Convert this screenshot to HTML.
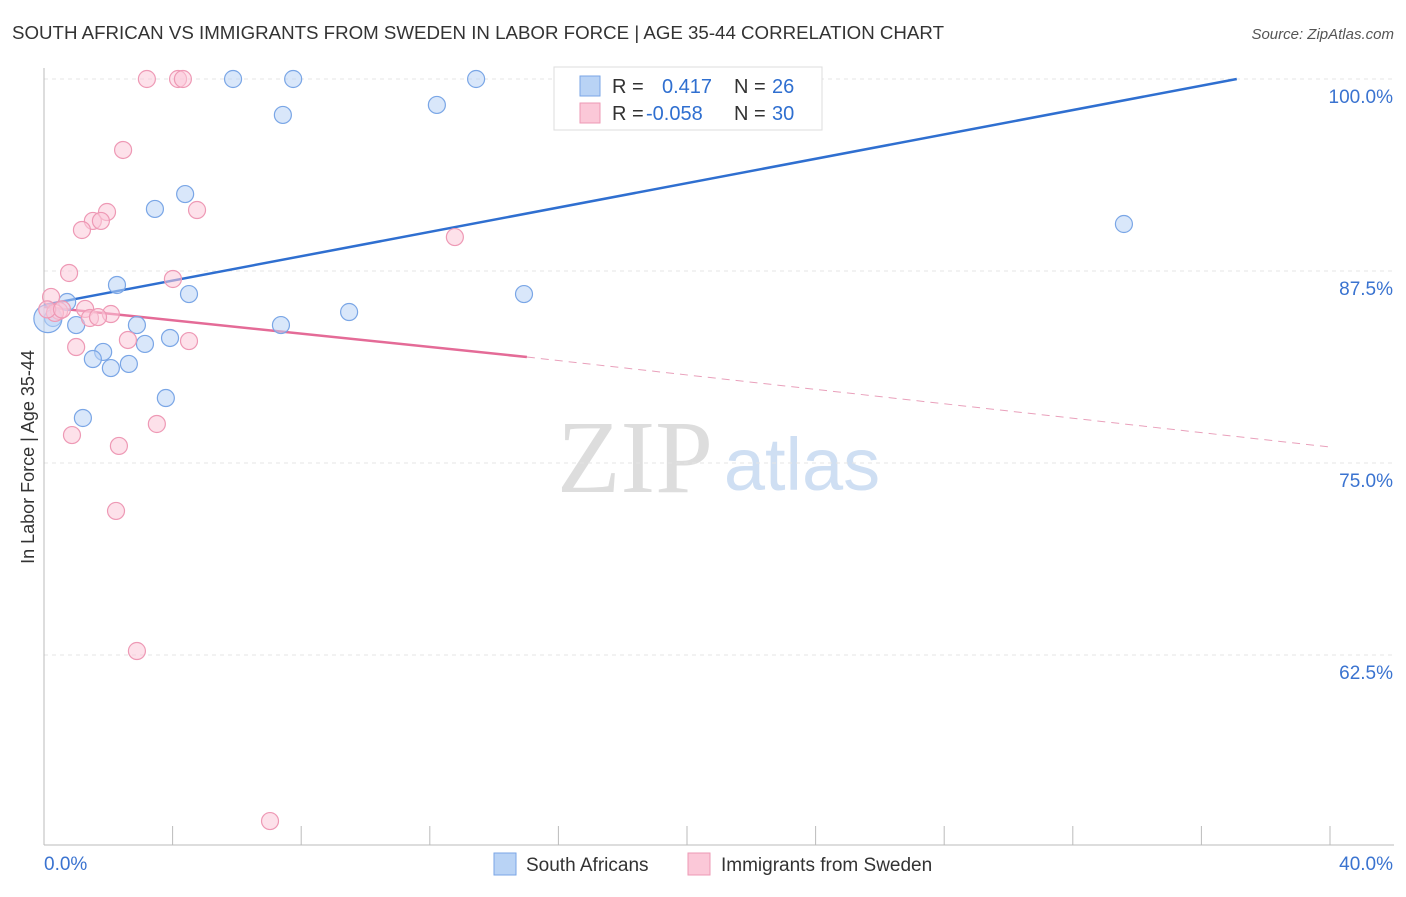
<!DOCTYPE html>
<html><head><meta charset="utf-8"><style>
body{margin:0;background:#fff;font-family:"Liberation Sans",sans-serif}
</style></head><body>
<svg id="chart" width="1406" height="892" xmlns="http://www.w3.org/2000/svg" font-family="Liberation Sans, sans-serif">
<text x="12" y="39" font-size="18" fill="#333" textLength="932" lengthAdjust="spacingAndGlyphs">SOUTH AFRICAN VS IMMIGRANTS FROM SWEDEN IN LABOR FORCE | AGE 35-44 CORRELATION CHART</text>
<text x="1394" y="39" font-size="15" fill="#555" text-anchor="end" font-style="italic">Source: ZipAtlas.com</text>
<g>
<text x="635" y="492" font-size="104" fill="#ddd" text-anchor="middle" font-family="Liberation Serif, serif">ZIP</text>
<text x="802" y="490" font-size="74" fill="#cfdff3" text-anchor="middle">atlas</text>
</g>
<g id="grid"></g><g id="axes"></g><g id="lines"></g><g id="points"></g>
<text transform="translate(34,457) rotate(-90)" font-size="18" fill="#333" text-anchor="middle">In Labor Force | Age 35-44</text>
<g>
<rect x="554" y="67" width="268" height="63" fill="#fff" stroke="#ddd"/>
<rect x="580" y="76" width="20" height="20" fill="#b9d3f5" stroke="#7aa6e6"/>
<rect x="580" y="103" width="20" height="20" fill="#fbc8d8" stroke="#ee99b5"/>
<text x="612" y="93" font-size="20" fill="#333">R = <tspan fill="#2f6fd0" x="662">0.417</tspan><tspan x="734" fill="#333">N = </tspan><tspan fill="#2f6fd0" x="772">26</tspan></text>
<text x="612" y="120" font-size="20" fill="#333">R = <tspan fill="#2f6fd0" x="646">-0.058</tspan><tspan x="734" fill="#333">N = </tspan><tspan fill="#2f6fd0" x="772">30</tspan></text>
</g>
<g>
<rect x="494" y="853" width="22" height="22" fill="#b9d3f5" stroke="#7aa6e6"/>
<text x="526" y="871" font-size="19" fill="#333">South Africans</text>
<rect x="688" y="853" width="22" height="22" fill="#fbc8d8" stroke="#ee99b5"/>
<text x="721" y="871" font-size="19" fill="#333">Immigrants from Sweden</text>
</g>
</svg>
<script>
const yTicks=[100,87.5,75,62.5];
const yTickLabels=["100.0%","87.5%","75.0%","62.5%"];
const blueX=[5.88,7.75,13.44,12.22,7.43,4.39,3.45,33.59,2.27,4.51,14.93,0.72,9.49,0.28,1.0,2.89,7.37,3.92,3.14,1.84,1.52,2.64,2.08,3.79,1.21,0.12];
const blueY=[100,100,100,98.31,97.66,92.51,91.54,90.56,86.59,86.0,86.0,85.48,84.83,84.44,83.98,83.98,83.98,83.14,82.75,82.23,81.77,81.45,81.18,79.23,77.93,84.4];
const pinkX=[3.2,4.17,4.32,2.46,1.96,4.76,1.52,1.77,1.18,12.78,0.78,4.01,0.22,1.28,0.47,2.08,1.43,1.68,2.61,4.51,1.0,3.51,0.87,2.33,2.24,2.89,7.03,0.34,0.1,0.56];
const pinkY=[100,100,100,95.38,91.34,91.47,90.76,90.76,90.17,89.71,87.37,86.98,85.81,85.03,84.9,84.7,84.44,84.5,83.01,82.94,82.55,77.54,76.82,76.11,71.88,62.76,51.69,84.77,85.0,85.0];
const blueLine=[[0,85.29],[37.1,100]];
const pinkSolid=[[0,85.16],[15.02,81.9]];
const pinkDash=[[15.02,81.9],[40,76.04]];
const xs=v=>44+v*32.15, ys=v=>79+(100-v)*15.36;
const NS="http://www.w3.org/2000/svg";
function mk(tag,attrs,parent){const e=document.createElementNS(NS,tag);for(const k in attrs)e.setAttribute(k,attrs[k]);document.getElementById(parent).appendChild(e);return e;}
yTicks.forEach((t,i)=>{
 const g=mk('line',{x1:44,x2:1394,y1:ys(t),y2:ys(t),stroke:'#e4e4e4','stroke-dasharray':'4,4'},'grid');
 
 
 const l=mk('text',{x:1393,y:ys(t)+24,'font-size':19,fill:'#3a73d0','text-anchor':'end'},'axes');
 l.textContent=yTickLabels[i];
 
 
});
const ax=mk('line',{x1:44,x2:1394,y1:845,y2:845,stroke:'#bbb'},'axes');


const ay=mk('line',{x1:44,x2:44,y1:68,y2:845,stroke:'#bbb'},'axes');


for(let i=0;i<=10;i++){const t=mk('line',{x1:xs(i*4),x2:xs(i*4),y1:826,y2:845,stroke:'#bbb'},'axes');
 
 }
[["0.0%",44,'start'],["40.0%",1393,'end']].forEach(a=>{const t=mk('text',{x:a[1],y:870,'font-size':19,fill:'#3a73d0','text-anchor':a[2]},'axes');t.textContent=a[0];
 
 });
function line(p,col,w,dash,name){const l=mk('line',{x1:xs(p[0][0]),y1:ys(p[0][1]),x2:xs(p[1][0]),y2:ys(p[1][1]),stroke:col,'stroke-width':w},'lines');if(dash)l.setAttribute('stroke-dasharray',dash);
 
 }
line(blueLine,'#2f6fd0',2.5,null,'blue-trend-line');
line(pinkSolid,'#e46b97',2.5,null,'pink-trend-line');
line(pinkDash,'#e9a0bb',1,'8,6','pink-trend-extension');
function pts(X,Y,fill,stroke,name){X.forEach((x,i)=>{const big=i===X.length-1&&name==='south-african-point';const c=mk('circle',{cx:xs(x),cy:ys(Y[i]),r:big?14:8.5,fill:fill,'fill-opacity':0.55,stroke:stroke,'stroke-width':1.2},'points');
 
 });}
pts(blueX,blueY,'#b9d3f5','#7aa6e6','south-african-point');
pts(pinkX,pinkY,'#fbc8d8','#ee99b5','sweden-immigrant-point');
</script>
</body></html>
